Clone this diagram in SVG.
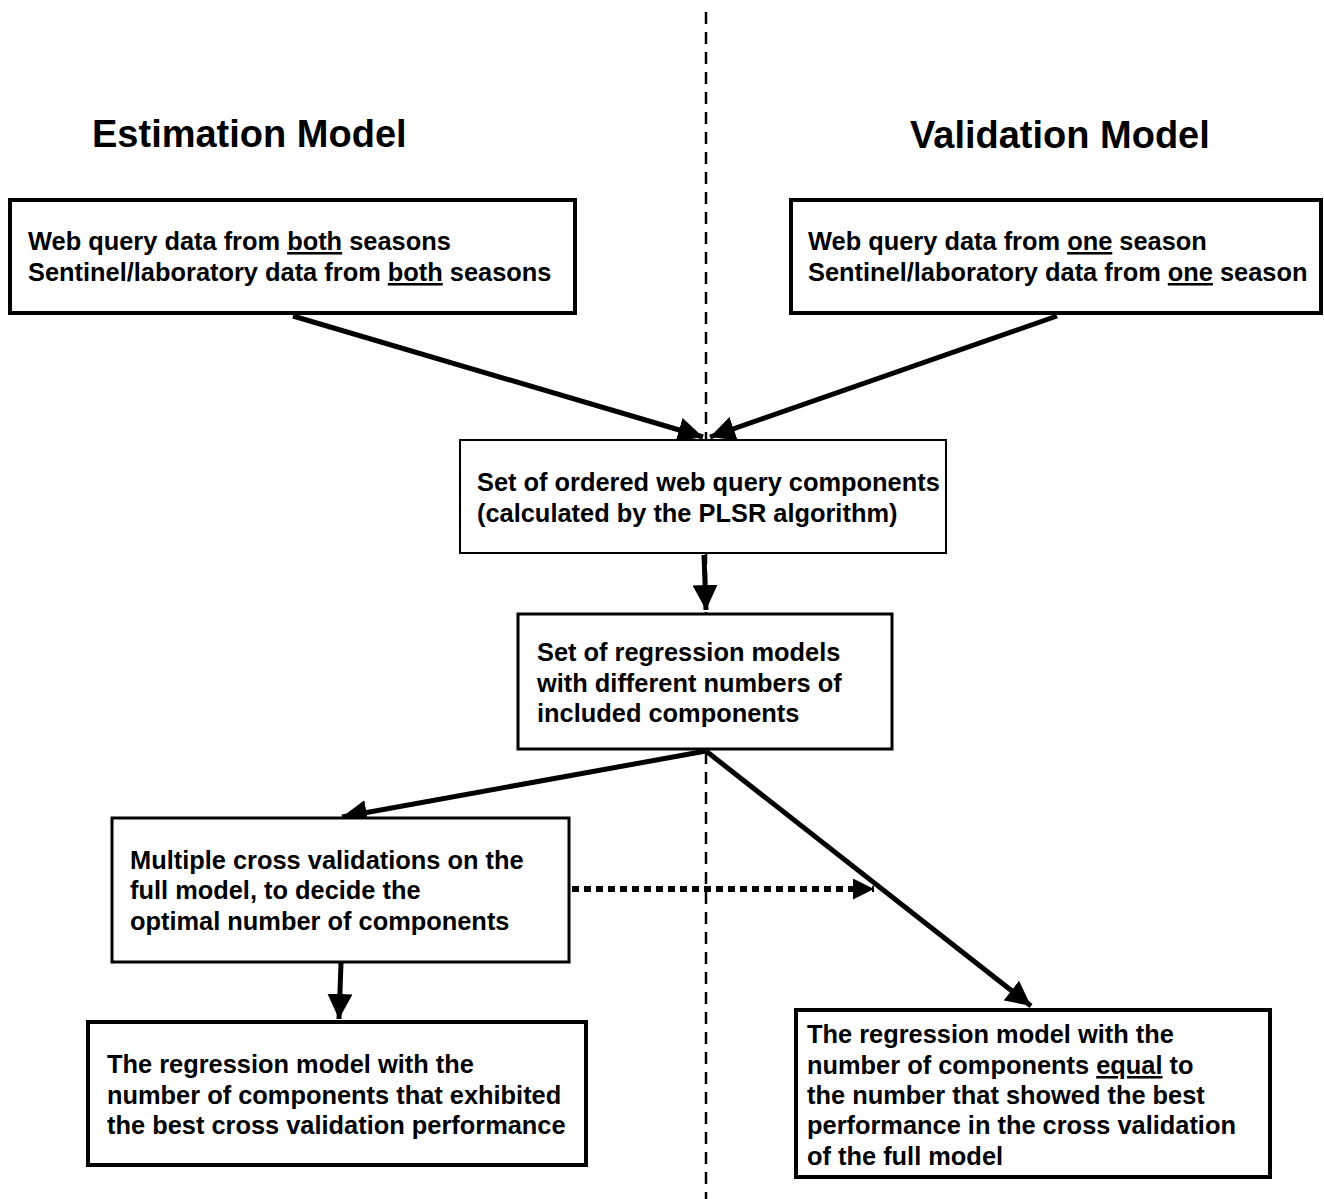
<svg xmlns="http://www.w3.org/2000/svg" width="1324" height="1199" viewBox="0 0 1324 1199">
<style>
text{font-family:"Liberation Sans",Arial,sans-serif;font-weight:bold;fill:#000}
.t{font-size:25.4px}
.h{font-size:38px}
.box{fill:#fff;stroke:#000}
.u{text-decoration:underline}
.c{fill:none;stroke:#000;stroke-width:5}
</style>
<defs>
<marker id="ah" viewBox="0 0 10 10" refX="10" refY="5" markerWidth="5" markerHeight="5" orient="auto" markerUnits="strokeWidth">
<path d="M0,0 L10,5 L0,10 z" fill="#000"/>
</marker>
<marker id="ah2" viewBox="0 0 10 10" refX="10" refY="5" markerWidth="3.5" markerHeight="3.5" orient="auto" markerUnits="strokeWidth">
<path d="M0,0 L10,5 L0,10 z" fill="#000"/>
</marker>
</defs>
<rect width="1324" height="1199" fill="#fff"/>
<line x1="706" y1="12" x2="706" y2="1199" stroke="#000" stroke-width="2.5" stroke-dasharray="12,8"/>
<text class="h" x="92" y="147">Estimation Model</text>
<text class="h" x="910" y="148">Validation Model</text>
<g id="connectors">
<line class="c" x1="293" y1="316" x2="703" y2="437" marker-end="url(#ah)"/>
<line class="c" x1="1057" y1="316" x2="710" y2="437" marker-end="url(#ah)"/>
<line class="c" x1="704" y1="555" x2="706" y2="610" marker-end="url(#ah)"/>
<line class="c" x1="706" y1="751" x2="342" y2="817" marker-end="url(#ah)"/>
<line class="c" x1="706" y1="751" x2="1031" y2="1006" marker-end="url(#ah)"/>
<line class="c" x1="341" y1="963" x2="339" y2="1019" marker-end="url(#ah)"/>
<line x1="572" y1="889" x2="874" y2="889" stroke="#000" stroke-width="6" stroke-dasharray="7,5" marker-end="url(#ah2)"/>
</g>
<g id="n1">
<rect class="box" x="10" y="200" width="565" height="113" stroke-width="4"/>
<text class="t" x="28" y="250">Web query data from <tspan class="u">both</tspan> seasons</text>
<text class="t" x="28" y="281">Sentinel/laboratory data from <tspan class="u">both</tspan> seasons</text>
</g>
<g id="n2">
<rect class="box" x="791" y="200" width="530" height="113" stroke-width="4"/>
<text class="t" x="808" y="250">Web query data from <tspan class="u">one</tspan> season</text>
<text class="t" x="808" y="281">Sentinel/laboratory data from <tspan class="u">one</tspan> season</text>
</g>
<g id="n3">
<rect class="box" x="460" y="440" width="486" height="113" stroke-width="2"/>
<text class="t" x="477" y="491">Set of ordered web query components</text>
<text class="t" x="477" y="522">(calculated by the PLSR algorithm)</text>
</g>
<g id="n4">
<rect class="box" x="518" y="614" width="374" height="135" stroke-width="3"/>
<text class="t" x="537" y="661">Set of regression models</text>
<text class="t" x="537" y="692">with different numbers of</text>
<text class="t" x="537" y="722">included components</text>
</g>
<g id="n5">
<rect class="box" x="112" y="818" width="457" height="144" stroke-width="3"/>
<text class="t" x="130" y="869">Multiple cross validations on the</text>
<text class="t" x="130" y="899">full model, to decide the</text>
<text class="t" x="130" y="930">optimal number of components</text>
</g>
<g id="n6">
<rect class="box" x="88" y="1022" width="498" height="143" stroke-width="4"/>
<text class="t" x="107" y="1073">The regression model with the</text>
<text class="t" x="107" y="1104">number of components that exhibited</text>
<text class="t" x="107" y="1134">the best cross validation performance</text>
</g>
<g id="n7">
<rect class="box" x="796" y="1010" width="474" height="167" stroke-width="4"/>
<text class="t" x="807" y="1043">The regression model with the</text>
<text class="t" x="807" y="1074">number of components <tspan class="u">equal</tspan> to</text>
<text class="t" x="807" y="1104">the number that showed the best</text>
<text class="t" x="807" y="1134">performance in the cross validation</text>
<text class="t" x="807" y="1165">of the full model</text>
</g>
</svg>
